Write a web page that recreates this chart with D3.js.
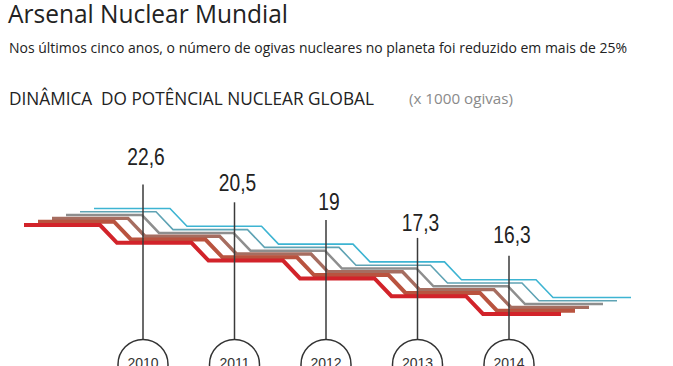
<!DOCTYPE html>
<html><head><meta charset="utf-8">
<script src="https://cdn.jsdelivr.net/npm/d3@7"></script>
<style>body{margin:0;background:#fff} svg{display:block}</style>
</head><body>
<svg id="c" width="673" height="366"></svg>
<script>
// ---- data ----
const years = [2010, 2011, 2012, 2013, 2014];
const values = [22.6, 20.5, 19, 17.3, 16.3];
const valueLabels = ["22,6", "20,5", "19", "17,3", "16,3"];
const stepLevels = [0, 1, 2, 3, 4, 5];
const strands = [0, 1, 2, 3, 4, 5];
const strandColors = ["#d2232a", "#b9533f", "#a66d60", "#8e8e8e", "#5fa3b4", "#3db4d2"];
const strandWidths = [4, 4, 3.4, 2.5, 1.6, 1.6];
const title = "Arsenal Nuclear Mundial";
const subtitle = "Nos últimos cinco anos, o número de ogivas nucleares no planeta foi reduzido em mais de 25%";
const heading = "DINÂMICA  DO POTÊNCIAL NUCLEAR GLOBAL";
const unitNote = "(x 1000 ogivas)";

// ---- scales ----
const svg = d3.select("#c");
const x = d3.scaleLinear().domain([years[0], years[years.length - 1]]).range([143, 509]);
const yLevel = d3.scaleLinear().domain([0, 5]).range([225, 314]);
const dxS = d3.scaleLinear().domain([0, 5]).range([0, 70]);
const dyS = d3.scaleLinear().domain([0, 5]).range([0, -16.5]);
const yLabel = d3.scaleLinear().domain([16.3, 22.6]).range([243, 165]);

// ---- titles ----
const sans = "'Open Sans', 'Noto Sans', sans-serif";
svg.append("text").attr("x", 8).attr("y", 23).text(title)
  .attr("font-family", sans).attr("font-size", 26).attr("fill", "#222")
  .attr("textLength", 280).attr("lengthAdjust", "spacingAndGlyphs");
svg.append("text").attr("x", 9).attr("y", 53).text(subtitle)
  .attr("font-family", sans).attr("font-size", 15).attr("fill", "#222")
  .attr("textLength", 618).attr("lengthAdjust", "spacingAndGlyphs");
svg.append("text").attr("x", 9).attr("y", 105).text(heading)
  .attr("font-family", sans).attr("font-size", 19).attr("fill", "#222")
  .attr("xml:space", "preserve").style("white-space", "pre")
  .attr("textLength", 365).attr("lengthAdjust", "spacingAndGlyphs");
svg.append("text").attr("x", 409).attr("y", 104).text(unitNote)
  .attr("font-family", sans).attr("font-size", 14).attr("fill", "#8a8a8a")
  .attr("textLength", 104).attr("lengthAdjust", "spacingAndGlyphs");

// ---- staircase strands ----
function strandPoints(i) {
  const dx = dxS(i), dy = dyS(i);
  const pts = [[x(years[0]) - 119 + dx, yLevel(stepLevels[0]) + dy]];
  years.forEach((yr, k) => {
    pts.push([x(yr) - 43 + dx, yLevel(stepLevels[k]) + dy]);
    pts.push([x(yr) - 26 + dx, yLevel(stepLevels[k + 1]) + dy]);
  });
  pts.push([x(years[years.length - 1]) + 52 + dx, yLevel(stepLevels[5]) + dy]);
  return pts;
}
const line = d3.line();
svg.append("g").selectAll("path").data(strands.slice().reverse()).join("path")
  .attr("d", d => line(strandPoints(d)))
  .attr("fill", "none")
  .attr("stroke", d => strandColors[d])
  .attr("stroke-width", d => strandWidths[d])
  .attr("stroke-linejoin", "miter");

// ---- year markers ----
const cy = 364.5, r = 25;
const g = svg.append("g").selectAll("g").data(years).join("g");
g.append("line")
  .attr("x1", d => x(d)).attr("x2", d => x(d))
  .attr("y1", (d, k) => yLevel(stepLevels[k]) + dyS(5) - 24)
  .attr("y2", cy - r)
  .attr("stroke", "#3a3a3a").attr("stroke-width", 1.5);
g.append("circle").attr("cx", d => x(d)).attr("cy", cy).attr("r", r)
  .attr("fill", "#fff").attr("stroke", "#333").attr("stroke-width", 1.5);
g.append("text").attr("x", d => x(d)).attr("y", cy + 3.5).text(d => d)
  .attr("text-anchor", "middle").attr("font-family", "'Liberation Sans', Arial, sans-serif")
  .attr("font-size", 14).attr("fill", "#333");
g.append("text")
  .attr("transform", (d, k) => `translate(${x(d) + 3},${yLabel(values[k])}) scale(0.8,1)`)
  .text((d, k) => valueLabels[k])
  .attr("text-anchor", "middle")
  .attr("font-family", "'Liberation Sans', sans-serif")
  .attr("font-size", 24).attr("fill", "#222");
</script>
</body></html>
